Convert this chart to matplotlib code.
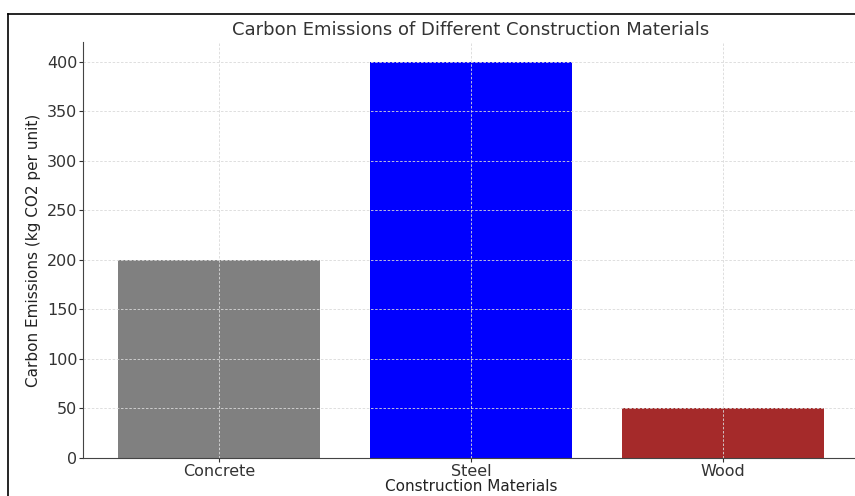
import matplotlib
matplotlib.use("Agg")
import matplotlib.pyplot as plt
from matplotlib.lines import Line2D

plt.rcParams["font.family"] = ["DejaVu Sans"]

materials = ["Concrete", "Steel", "Wood"]
emissions = [200, 400, 50]
bar_colors = ["gray", "blue", "brown"]

fig = plt.figure(figsize=(8.55, 4.96), dpi=100)
ax = fig.add_axes([0.0971, 0.0766, 0.9076, 0.8387])

ax.bar(materials, emissions, color=bar_colors, width=0.8)

ax.set_title("Carbon Emissions of Different Construction Materials",
             fontsize=13, color="#333333", pad=5)
ax.set_xlabel("Construction Materials", fontsize=11, color="#222222", labelpad=0)
ax.set_ylabel("Carbon Emissions (kg CO2 per unit)", fontsize=11, color="#222222",
              labelpad=4)
ax.tick_params(labelsize=11.5, colors="#333333", length=3, pad=1)
ax.grid(True, linestyle=(0, (3, 2)), color="#d9d9d9", linewidth=0.6)

for s in ["top", "right"]:
    ax.spines[s].set_visible(False)
for s in ["left", "bottom"]:
    ax.spines[s].set_color("#444444")

# the outer frame from the screenshot (only left and top visible)
fig.add_artist(Line2D([8/855, 8/855], [0, 1 - 14/496], color="black", lw=1.2))
fig.add_artist(Line2D([8/855, 1], [1 - 14/496, 1 - 14/496], color="black", lw=1.2))

fig.savefig("out.png", dpi=100)
